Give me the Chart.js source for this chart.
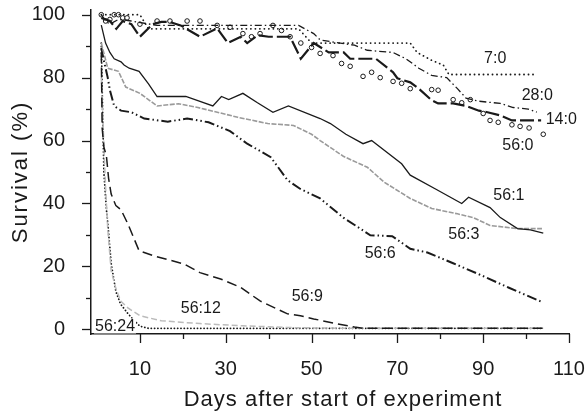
<!DOCTYPE html>
<html>
<head>
<meta charset="utf-8">
<script src="https://cdn.jsdelivr.net/npm/chart.js@4.4.0/dist/chart.umd.min.js"></script>
<style>
  body { margin: 0; background: #fff; }
  #wrap { width: 587px; height: 415px; }
</style>
</head>
<body>
<div id="wrap"><canvas id="survChart" width="587" height="415"></canvas></div>
<script>
// Survival (%) vs days
const xTicks = [10, 30, 50, 70, 90, 110]
const xMinor = [20, 40, 60, 80, 100]
const yTicks = [0, 20, 40, 60, 80, 100]
const yMinor = [10, 30, 50, 70, 90]

const seriesNames = ["7:0", "14:0", "28:0", "56:0", "56:1", "56:3", "56:6", "56:9", "56:12", "56:24"]

const days7_0 = [1, 10, 12, 47, 50, 73, 74.6, 78, 80.7, 82, 102.5]
const surv7_0 = [100, 100, 95.5, 95.5, 91, 91, 88, 85.5, 84, 81, 81]

const days14_0 = [1, 3, 4.5, 6, 8, 10, 13, 15, 17, 19.5, 24, 28, 30.5, 33.5, 35, 37.5, 40, 45, 47.5, 50.5, 54, 57.5, 59, 65, 69, 70, 73, 75, 78, 79.5, 83, 86, 89, 91, 94, 96.7, 103.5]
const surv14_0 = [99, 98, 95.5, 98, 97, 93, 97, 97.7, 97.7, 96.6, 93, 95.7, 91, 93, 91, 93.5, 93, 93, 86, 91, 88, 88, 86, 86, 81.7, 79.8, 78.5, 76.5, 72.8, 71.8, 71.8, 71, 69.5, 69, 68, 66.4, 66.4]

const days28_0 = [1, 2, 3, 5, 8, 14, 47, 50.5, 52, 55, 60, 63, 69, 72, 75, 78, 81.5, 84, 86, 89, 94, 97, 100.5, 102.5]
const surv28_0 = [100, 98, 97, 98.5, 98, 96.6, 96.6, 94, 92, 91.3, 90.3, 88.7, 88, 86, 83, 80.7, 80, 76.5, 73.5, 72.5, 71.8, 70.5, 70, 69]

const days56_0 = [1, 2, 3, 4, 5, 6, 7, 10, 14, 17, 21, 24, 28, 31, 34, 36, 38, 41, 43, 45, 47.5, 50, 52, 55, 57, 59, 62, 64, 66, 69, 71, 73, 78, 79.5, 83, 85, 87, 90, 91.6, 93.5, 96.7, 98.6, 100.7, 104]
const surv56_0 = [100, 98, 98.5, 100, 100, 99, 99, 97, 98, 98, 98, 98, 96.6, 96, 94, 93, 94, 96.6, 95, 93, 91, 89.6, 87.7, 87, 84.5, 83.6, 80.4, 81.7, 80, 78.8, 78.2, 76.5, 76.2, 76, 73, 72, 73, 68.6, 66.4, 65.8, 65, 64.5, 64, 62]

const days56_1 = [1, 2, 3, 4, 5.6, 6.3, 7.5, 9.8, 12, 14, 20.7, 23.5, 27, 29, 30.7, 34, 37.4, 41, 44.6, 52, 54.4, 58, 62, 64, 71, 73, 79, 85, 86.6, 91.6, 94, 98, 101, 104]
const surv56_1 = [96.7, 91, 88, 86, 85, 84, 83, 82, 78, 74, 74, 72.7, 71, 74, 73, 75, 72, 69, 71, 67, 65.4, 62, 59, 60, 52.6, 49, 44.5, 40, 42, 38.7, 35.5, 32, 31.6, 30.6]

const days56_3 = [1, 2.5, 5, 6.7, 10, 14, 19, 23.5, 32.8, 39.8, 45.8, 50, 52, 57.4, 63, 67, 73, 78, 84, 87.7, 91.6, 98, 103.7]
const surv56_3 = [91, 83, 82, 77, 75, 71, 71.7, 70.5, 67.4, 65.4, 64.8, 62, 60, 55, 51.5, 46.7, 41.6, 38.4, 36.7, 35.5, 33, 32, 32]

const days56_6 = [1, 1.5, 2, 2.5, 3, 4, 5.6, 8, 11, 16.5, 21, 26, 31, 35, 40.5, 44.4, 47.4, 52, 57.4, 63.7, 68.8, 73, 77, 83, 89, 96, 104]
const surv56_6 = [89.5, 86, 83, 80, 76, 71, 69.5, 69, 67, 66, 67, 65.8, 63, 59, 54.7, 47.4, 44.6, 41.6, 35.5, 29.9, 29.6, 25.6, 24.4, 21, 17.5, 13.2, 8.5]

const days56_9 = [1, 1.2, 1.6, 2.2, 2.7, 3.3, 4.4, 5.6, 7.2, 9.8, 13.3, 20.2, 24, 28.8, 33.5, 38, 44.4, 47.4, 50.5, 55, 60, 62, 104]
const surv56_9 = [88, 64, 58, 55, 48, 43, 39.3, 38, 33.5, 25, 23.3, 20.8, 18, 16, 13.3, 9, 4.9, 4.3, 3.3, 2, 0.7, 0.3, 0.3]

const days56_12 = [1, 1.3, 1.6, 2, 2.5, 3.3, 4.4, 5.5, 7.2, 10, 15, 24, 34, 46, 60, 104]
const surv56_12 = [80, 70, 58, 45, 32, 18.6, 13, 9, 6.8, 4.3, 2.7, 1.8, 1.1, 0.5, 0.3, 0.3]

const days56_24 = [1, 1.3, 1.6, 2.2, 2.5, 3.3, 4.4, 5.5, 7.2, 8.5, 10, 12, 104]
const surv56_24 = [91, 70, 50, 38, 34, 21, 12, 8, 5, 3, 1, 0.3, 0.3]

function pts(days, surv) {
    return days.map((d, i) => ({ x: d, y: surv[i] }))
}

const FONT = "'Liberation Sans', Arial, Helvetica, sans-serif"
const INK = "#1a1a1a"

function lineSet(label, data, color, width, dash, cap) {
    return {
        label: label,
        data: data,
        borderColor: color,
        borderWidth: width,
        borderDash: dash,
        borderCapStyle: cap || "butt",
        pointRadius: 0,
        fill: false,
        tension: 0
    }
}

const datasets = [
    lineSet(seriesNames[0], pts(days7_0, surv7_0), INK, 1.8, [0.1, 4.4], "round"),
    lineSet(seriesNames[1], pts(days14_0, surv14_0), INK, 2.2, [14, 4]),
    lineSet(seriesNames[2], pts(days28_0, surv28_0), INK, 1.3, [7, 3, 1.5, 3]),
    {
        label: seriesNames[3],
        data: pts(days56_0, surv56_0),
        showLine: false,
        pointRadius: 2.3,
        pointBorderWidth: 1,
        pointBorderColor: INK,
        pointBackgroundColor: "#fff"
    },
    lineSet(seriesNames[4], pts(days56_1, surv56_1), INK, 1.3, []),
    lineSet(seriesNames[5], pts(days56_3, surv56_3), "#9a9a9a", 1.6, [5, 1.5]),
    lineSet(seriesNames[6], pts(days56_6, surv56_6), INK, 2, [10, 3, 1.5, 3, 1.5, 3]),
    lineSet(seriesNames[7], pts(days56_9, surv56_9), INK, 1.5, [10, 5]),
    lineSet(seriesNames[8], pts(days56_12, surv56_12), "#bbbbbb", 1.5, [6, 3]),
    lineSet(seriesNames[9], pts(days56_24, surv56_24), INK, 1.8, [0.1, 3.2], "round")
]

// where each curve label sits, in data units
const labelAt = {
    "7:0": [92.8, 86.1],
    "28:0": [102.6, 74.4],
    "14:0": [108.2, 66.7],
    "56:0": [98.1, 58.5],
    "56:1": [96, 42.6],
    "56:3": [85.5, 30],
    "56:6": [66, 24],
    "56:9": [49, 10.3],
    "56:12": [24.2, 6.6],
    "56:24": [4.2, 0.9]
}

const decorations = {
    id: "decorations",
    afterDraw(chart) {
        const ctx = chart.ctx
        const xs = chart.scales.x
        const ys = chart.scales.y
        const area = chart.chartArea

        ctx.save()
        ctx.strokeStyle = INK
        ctx.lineWidth = 1.3

        xTicks.forEach(v => {
            const px = Math.round(xs.getPixelForValue(v)) + 0.5
            ctx.beginPath(); ctx.moveTo(px, area.bottom); ctx.lineTo(px, area.bottom + 9); ctx.stroke()
        })
        xMinor.forEach(v => {
            const px = Math.round(xs.getPixelForValue(v)) + 0.5
            ctx.beginPath(); ctx.moveTo(px, area.bottom); ctx.lineTo(px, area.bottom + 5); ctx.stroke()
        })
        yTicks.forEach(v => {
            const py = Math.round(ys.getPixelForValue(v)) + 0.5
            ctx.beginPath(); ctx.moveTo(area.left - 9, py); ctx.lineTo(area.left, py); ctx.stroke()
        })
        yMinor.forEach(v => {
            const py = Math.round(ys.getPixelForValue(v)) + 0.5
            ctx.beginPath(); ctx.moveTo(area.left - 5, py); ctx.lineTo(area.left, py); ctx.stroke()
        })

        ctx.font = "16px " + FONT
        ctx.textAlign = "center"
        ctx.textBaseline = "middle"
        seriesNames.forEach(name => {
            const at = labelAt[name]
            const px = xs.getPixelForValue(at[0])
            const py = ys.getPixelForValue(at[1])
            if (name === "56:24") {
                const w = ctx.measureText(name).width
                ctx.fillStyle = "#fff"
                ctx.fillRect(px - w / 2 - 1, py - 8, w + 2, 15)
            }
            ctx.fillStyle = INK
            ctx.fillText(name, px, py)
        })

        // axis titles
        ctx.font = "22px " + FONT
        ctx.fillStyle = INK
        ctx.letterSpacing = "1px"
        ctx.fillText("Days after start of experiment", 343, 400)

        ctx.save()
        ctx.translate(21, 172)
        ctx.rotate(-Math.PI / 2)
        ctx.letterSpacing = "2px"
        ctx.fillText("Survival (%)", 0, 0)
        ctx.restore()

        ctx.restore()
    }
}

new Chart(document.getElementById("survChart"), {
    type: "line",
    data: { datasets: datasets },
    options: {
        responsive: false,
        animation: false,
        devicePixelRatio: 1,
        layout: { padding: { top: 10, right: 18, left: 0, bottom: 0 } },
        plugins: {
            legend: { display: false },
            tooltip: { enabled: false }
        },
        scales: {
            x: {
                type: "linear",
                min: -1.4,
                max: 110,
                afterBuildTicks: s => { s.ticks = xTicks.map(v => ({ value: v })) },
                afterFit: s => { s.height = 81; s.paddingLeft = 0; s.paddingRight = 0 },
                grid: { display: false, drawTicks: false },
                border: { display: true, color: INK, width: 1.5 },
                ticks: {
                    padding: 23,
                    color: INK,
                    font: { family: FONT, size: 20 },
                    maxRotation: 0
                }
            },
            y: {
                type: "linear",
                min: -1.5,
                max: 101.5,
                afterBuildTicks: s => { s.ticks = yTicks.map(v => ({ value: v })) },
                afterFit: s => { s.width = 91; s.paddingTop = 0; s.paddingBottom = 0 },
                grid: { display: false, drawTicks: false },
                border: { display: true, color: INK, width: 1.5 },
                ticks: {
                    padding: 26,
                    color: INK,
                    font: { family: FONT, size: 20 }
                }
            }
        }
    },
    plugins: [decorations]
})
</script>
</body>
</html>
